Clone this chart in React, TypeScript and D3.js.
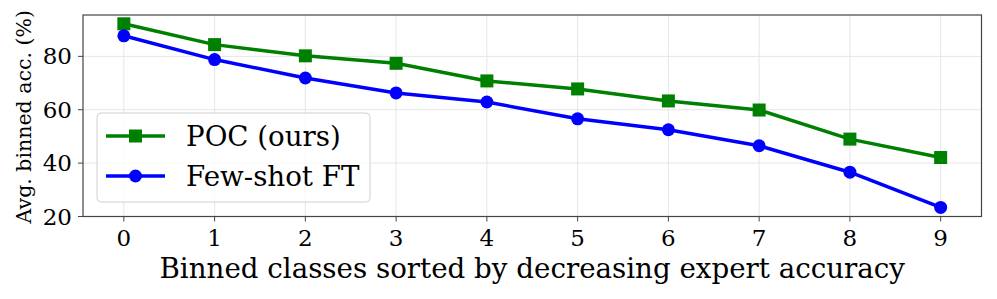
import React from "react";
import * as d3 from "d3";

const categories = [0, 1, 2, 3, 4, 5, 6, 7, 8, 9];
const pocValues = [92.2, 84.4, 80.2, 77.4, 70.8, 67.8, 63.3, 59.9, 49.0, 42.1];
const fewShotValues = [87.7, 78.8, 71.9, 66.3, 62.9, 56.6, 52.5, 46.5, 36.6, 23.4];
const yTicks = [20, 40, 60, 80];
const seriesNames = ["POC (ours)", "Few-shot FT"];
const xLabel = "Binned classes sorted by decreasing expert accuracy";
const yLabel = "Avg. binned acc. (%)";

const W = 997, H = 299;
const M = { left: 83, right: 15.5, top: 15, bottom: 82.5 };
const font = "'DejaVu Serif', serif";

export default function App() {
  const x = d3.scaleLinear().domain([-0.45, 9.45]).range([M.left, W - M.right]);
  const y = d3.scaleLinear().domain([20, 95.5]).range([H - M.bottom, M.top]);
  const line = d3.line<number>().x((_, i) => x(categories[i])).y(d => y(d));
  const pocColor = "#008000", fsColor = "#0000ff";
  const lx = 97, ly = 113;
  return (
    <svg width={W} height={H} style={{ position: "absolute", left: 0, top: 0 }} fontFamily={font}>
      <rect width={W} height={H} fill="#fff" />
      {categories.map(c => (
        <line key={"gx" + c} x1={x(c)} x2={x(c)} y1={M.top} y2={H - M.bottom} stroke="#e6e6e6" strokeWidth={1} />
      ))}
      {yTicks.map(t => (
        <line key={"gy" + t} x1={M.left} x2={W - M.right} y1={y(t)} y2={y(t)} stroke="#e6e6e6" strokeWidth={1} />
      ))}
      <path d={line(pocValues) || ""} fill="none" stroke={pocColor} strokeWidth={3.5} strokeLinejoin="round" />
      <path d={line(fewShotValues) || ""} fill="none" stroke={fsColor} strokeWidth={3.5} strokeLinejoin="round" />
      {pocValues.map((v, i) => (
        <rect key={"p" + i} x={x(categories[i]) - 6.5} y={y(v) - 6.5} width={13} height={13} fill={pocColor} />
      ))}
      {fewShotValues.map((v, i) => (
        <circle key={"f" + i} cx={x(categories[i])} cy={y(v)} r={6.5} fill={fsColor} />
      ))}
      <rect x={M.left} y={M.top} width={W - M.left - M.right} height={H - M.top - M.bottom} fill="none" stroke="#444" strokeWidth={1.2} />
      {categories.map(c => (
        <g key={"tx" + c}>
          <line x1={x(c)} x2={x(c)} y1={H - M.bottom} y2={H - M.bottom + 5} stroke="#444" />
          <text x={x(c)} y={246} textAnchor="middle" fontSize={23} fill="#000">{c}</text>
        </g>
      ))}
      {yTicks.map(t => (
        <g key={"ty" + t}>
          <line x1={M.left - 5} x2={M.left} y1={y(t)} y2={y(t)} stroke="#444" />
          <text x={72} y={y(t) + 8} textAnchor="end" fontSize={23} fill="#000">{t}</text>
        </g>
      ))}
      <text x={(M.left + W - M.right) / 2} y={278} textAnchor="middle" fontSize={27.7} fill="#000">{xLabel}</text>
      <text transform={`translate(31,${(M.top + H - M.bottom) / 2 + 1}) rotate(-90)`} textAnchor="middle" fontSize={20.5} fill="#000">{yLabel}</text>
      <rect x={lx} y={ly} width={273} height={89} rx={4} fill="#fff" fillOpacity={0.8} stroke="#d0d0d0" strokeWidth={1} />
      {[pocColor, fsColor].map((col, i) => {
        const yy = ly + 23 + i * 40;
        return (
          <g key={"lg" + i}>
            <line x1={lx + 9} x2={lx + 68} y1={yy} y2={yy} stroke={col} strokeWidth={3.5} />
            {i === 0 ? (
              <rect x={lx + 38.5 - 6.5} y={yy - 6.5} width={13} height={13} fill={col} />
            ) : (
              <circle cx={lx + 38.5} cy={yy} r={6.5} fill={col} />
            )}
            <text x={186} y={yy + 10} fontSize={27.7} fill="#000">{seriesNames[i]}</text>
          </g>
        );
      })}
    </svg>
  );
}
